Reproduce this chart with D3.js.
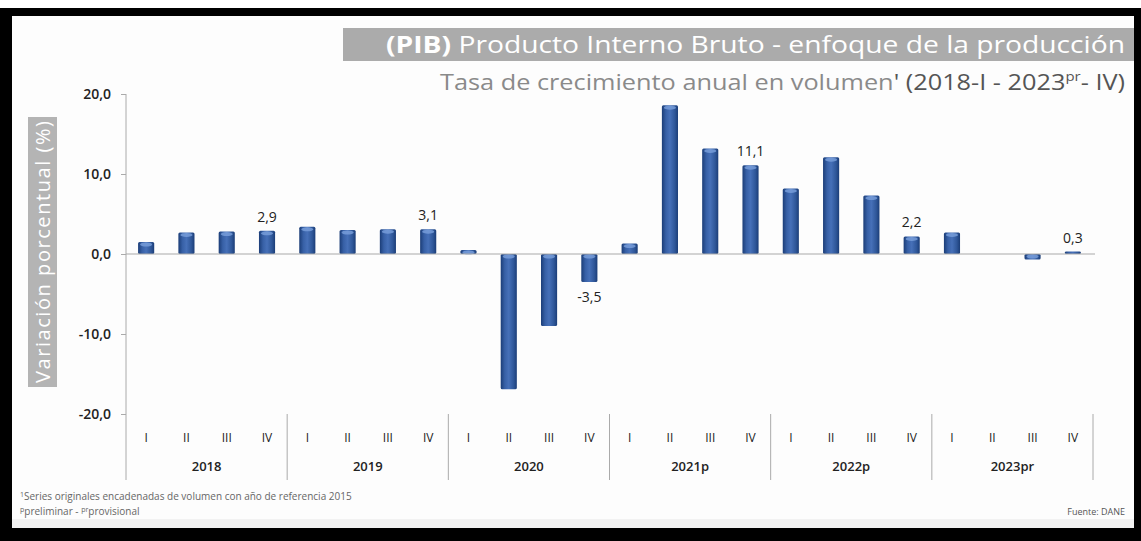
<!DOCTYPE html>
<meta charset="utf-8">
<html>
<style>
	body { margin: 0; background: #fff; }
	svg text { font-family: "Open Sans", "Noto Sans", sans-serif; }
	.qlab { font-size: 12px; fill: #222; }
	.ylab { font-size: 13px; fill: #222; font-weight: 600; }
	.tick text { font-size: 14px; fill: #222; font-weight: 600; }
	.vlab { font-size: 14px; fill: #222; }
</style>
<body>
	<script src="https://d3js.org/d3.v7.min.js"></script>
	<script type="text/javascript">
		// data
		var years = ["2018", "2019", "2020", "2021p", "2022p", "2023pr"];
		var quarters = ["I", "II", "III", "IV"];
		var values = [1.5, 2.7, 2.8, 2.9,
			3.4, 3.0, 3.1, 3.1,
			0.5, -16.9, -9.0, -3.5,
			1.3, 18.6, 13.2, 11.1,
			8.2, 12.1, 7.3, 2.2,
			2.7, 0.0, -0.7, 0.3];
		var labelQuarter = "IV"; // only the fourth quarter carries a value label
		var yTicks = [-20, -10, 0, 10, 20];

		var width = 1141, height = 541;

		var svg = d3.select("body").append("svg")
			.attr("width", width)
			.attr("height", height);

		// frame
		svg.append("rect").attr("x", 0).attr("y", 8).attr("width", width).attr("height", height - 8).attr("fill", "#000");
		svg.append("rect").attr("x", 12).attr("y", 16).attr("width", 1122).attr("height", 512).attr("fill", "#fdfdfd");
		svg.append("rect").attr("x", 12).attr("y", 519).attr("width", 1122).attr("height", 9).attr("fill", "#f2f2f2");

		var defs = svg.append("defs");
		var grad = defs.append("linearGradient").attr("id", "barGrad");
		[["0%", "#1b3d77"], ["25%", "#3760a6"], ["50%", "#4670b8"], ["80%", "#2f5799"], ["100%", "#1b3d77"]]
			.forEach(function (s) { grad.append("stop").attr("offset", s[0]).attr("stop-color", s[1]); });

		// items: one per quarter
		var items = [];
		years.forEach(function (y, i) {
			quarters.forEach(function (q, j) {
				items.push({ year: y, q: q, value: values[i * 4 + j], id: y + "-" + q });
			});
		});

		var x = d3.scaleBand()
			.domain(items.map(function (d) { return d.id; }))
			.range([126, 1093])
			.paddingInner(0.6)
			.paddingOuter(0.3);

		var xYear = d3.scaleBand()
			.domain(years)
			.range([126, 1093]);

		var y = d3.scaleLinear()
			.domain([-20, 20])
			.range([414, 94]);

		function fmt(v) { return d3.format(".1f")(v).replace(".", ",").replace("−", "-"); }

		// y axis
		var yAxis = d3.axisLeft(y)
			.tickValues(yTicks)
			.tickSize(5)
			.tickFormat(fmt);

		var gy = svg.append("g")
			.attr("transform", "translate(126,0)")
			.call(yAxis);
		gy.select(".domain").remove();
		gy.selectAll(".tick line").attr("stroke", "#aaa");
		gy.selectAll(".tick text").attr("x", -15);

		svg.append("line")
			.attr("x1", 126).attr("x2", 126)
			.attr("y1", y(20)).attr("y2", 480)
			.attr("stroke", "#aaa");

		// year separators
		svg.selectAll(".sep")
			.data(years)
			.enter().append("line")
			.attr("class", "sep")
			.attr("x1", function (d) { return xYear(d) + xYear.bandwidth(); })
			.attr("x2", function (d) { return xYear(d) + xYear.bandwidth(); })
			.attr("y1", 414).attr("y2", 480)
			.attr("stroke", "#aaa");

		// bars
		var bar = svg.selectAll(".bar")
			.data(items)
			.enter().append("g")
			.attr("class", "bar");

		bar.append("rect")
			.attr("x", function (d) { return x(d.id); })
			.attr("width", x.bandwidth())
			.attr("y", function (d) { return y(Math.max(0, d.value)); })
			.attr("height", function (d) { return Math.abs(y(d.value) - y(0)); })
			.attr("rx", 1.5)
			.attr("fill", "url(#barGrad)");

		// lighter cap on the end of each bar
		bar.filter(function (d) { return Math.abs(d.value) >= 0.5; })
			.append("ellipse")
			.attr("cx", function (d) { return x(d.id) + x.bandwidth() / 2; })
			.attr("cy", function (d) { return d.value >= 0 ? y(d.value) + 2.5 : y(0) + 2.5; })
			.attr("rx", x.bandwidth() / 2 - 2)
			.attr("ry", 2)
			.attr("fill", "#7aa0dc")
			.attr("opacity", 0.8);

		// zero line
		svg.append("line")
			.attr("x1", 126).attr("x2", 1095)
			.attr("y1", y(0)).attr("y2", y(0))
			.attr("stroke", "#aaa")
			.attr("stroke-width", 1.2);

		// value labels
		svg.selectAll(".vlab")
			.data(items.filter(function (d) { return d.q === labelQuarter; }))
			.enter().append("text")
			.attr("class", "vlab")
			.attr("text-anchor", "middle")
			.attr("x", function (d) { return x(d.id) + x.bandwidth() / 2; })
			.attr("y", function (d) { return d.value >= 0 ? y(d.value) - 9 : y(d.value) + 20; })
			.text(function (d) { return fmt(d.value); });

		// quarter labels
		svg.selectAll(".qlab")
			.data(items)
			.enter().append("text")
			.attr("class", "qlab")
			.attr("text-anchor", "middle")
			.attr("x", function (d) { return x(d.id) + x.bandwidth() / 2; })
			.attr("y", 442)
			.text(function (d) { return d.q; });

		// year labels
		svg.selectAll(".ylab")
			.data(years)
			.enter().append("text")
			.attr("class", "ylab")
			.attr("text-anchor", "middle")
			.attr("x", function (d) { return xYear(d) + xYear.bandwidth() / 2; })
			.attr("y", 471)
			.text(function (d) { return d; });

		// y axis title
		svg.append("rect")
			.attr("x", 28).attr("y", 117).attr("width", 29).attr("height", 270)
			.attr("fill", "#b4b4b4");
		svg.append("text")
			.attr("transform", "translate(50,252) rotate(-90)")
			.attr("text-anchor", "middle")
			.attr("fill", "#fff")
			.attr("textLength", 262)
			.style("font-size", "20px")
			.text("Variación porcentual (%)");

		// title
		svg.append("rect")
			.attr("x", 343).attr("y", 28).attr("width", 791).attr("height", 33)
			.attr("fill", "#ababab");
		var title = svg.append("text")
			.attr("x", 386).attr("y", 53)
			.attr("textLength", 739)
			.attr("lengthAdjust", "spacingAndGlyphs")
			.attr("fill", "#fff")
			.style("font-size", "24px");
		title.append("tspan").style("font-weight", "bold").text("(PIB)");
		title.append("tspan").text(" Producto Interno Bruto  - enfoque de la producción");

		var sub = svg.append("text")
			.attr("x", 440).attr("y", 90)
			.attr("textLength", 685)
			.attr("lengthAdjust", "spacingAndGlyphs")
			.style("font-size", "22px");
		sub.append("tspan").attr("fill", "#8a8a8a").text("Tasa de crecimiento anual en volumen");
		sub.append("tspan").attr("fill", "#555").text("' (2018-I - 2023");
		sub.append("tspan").attr("fill", "#555").attr("dy", -9).style("font-size", "13px").text("pr");
		sub.append("tspan").attr("fill", "#555").attr("dy", 9).text("- IV)");

		// footnotes
		var f1 = svg.append("text").attr("x", 20).attr("y", 500).attr("fill", "#666").style("font-size", "10px");
		f1.append("tspan").attr("dy", -3).style("font-size", "7px").text("1");
		f1.append("tspan").attr("dy", 3).text("Series originales encadenadas de volumen con año de referencia 2015");

		var f2 = svg.append("text").attr("x", 20).attr("y", 515).attr("fill", "#666").style("font-size", "10px");
		f2.append("tspan").attr("dy", -3).style("font-size", "7px").text("p");
		f2.append("tspan").attr("dy", 3).text("preliminar - ");
		f2.append("tspan").attr("dy", -3).style("font-size", "7px").text("pr");
		f2.append("tspan").attr("dy", 3).text("provisional");

		svg.append("text")
			.attr("x", 1125).attr("y", 515)
			.attr("text-anchor", "end")
			.attr("fill", "#555")
			.style("font-size", "9px")
			.text("Fuente: DANE");
	</script>
</body>
</html>
